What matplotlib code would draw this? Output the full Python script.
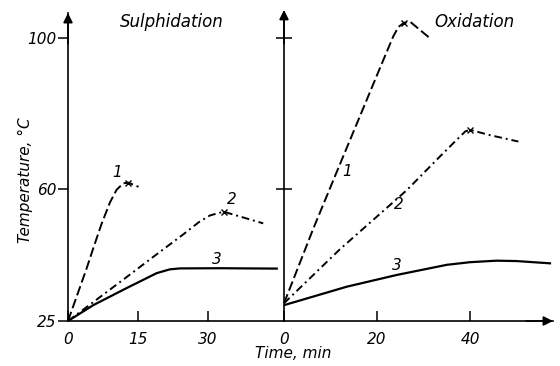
import matplotlib
matplotlib.use('Agg')
import matplotlib.pyplot as plt

# Sulphidation (time in min, temperature in deg C)
sul_t1 = [0, 2.0, 4.0, 5.6, 7.2, 9.0, 10.4, 11.8, 12.9, 15.1]
sul_T1 = [25, 32.0, 39.0, 45.0, 50.8, 56.5, 59.8, 61.5, 61.7, 60.6]
sul_peak1 = (12.9, 61.7)

sul_t2 = [0, 5.4, 12.5, 17.6, 21.8, 24.7, 28.0, 30.4, 33.3, 41.8]
sul_T2 = [25, 30.0, 36.6, 41.4, 45.3, 48.0, 51.2, 53.0, 54.0, 50.9]
sul_peak2 = (33.3, 54.0)

sul_t3 = [0, 5.4, 12.5, 19.0, 21.8, 24.0, 32.5, 44.7]
sul_T3 = [25, 29.2, 33.7, 37.7, 38.7, 38.95, 39.0, 38.9]

# Oxidation
ox_t1 = [0, 6.3, 12.0, 17.4, 20.6, 23.5, 24.6, 25.8, 27.1, 31.2]
ox_T1 = [29.7, 49.5, 66.5, 82.5, 92.0, 100.5, 103.0, 104.1, 104.4, 100.2]
ox_peak1 = (25.8, 104.1)

ox_t2 = [0, 12.0, 26.4, 33.5, 37.5, 39.0, 40.0, 44.3, 50.4]
ox_T2 = [29.7, 44.0, 59.7, 68.6, 73.5, 75.3, 75.7, 74.3, 72.6]
ox_peak2 = (40.0, 75.7)

ox_t3 = [0, 13.5, 24.2, 35.0, 40.0, 45.7, 50.0, 57.2]
ox_T3 = [29.2, 34.1, 37.2, 39.9, 40.6, 41.0, 40.9, 40.3]

sul_xticks = [0, 15, 30]
ox_xticks = [0, 20, 40]
yticks = [25, 60, 100]

DASH = (0, (5, 2))
DASHDOT = (0, (4, 2, 1, 2))
LW = 1.4
FONT = dict(family='DejaVu Sans', style='italic')

fig = plt.figure(figsize=(5.6, 3.66), dpi=100)
ax1 = fig.add_axes([68 / 560, 45 / 366, 216 / 560, 308 / 366])
ax2 = fig.add_axes([284 / 560, 45 / 366, 269 / 560, 308 / 366])

ymax = 106.7
for ax, xmax in ((ax1, 46.25), (ax2, 57.85)):
    ax.set_xlim(0, xmax)
    ax.set_ylim(25, ymax)
    for s in ('top', 'right'):
        ax.spines[s].set_visible(False)
    for s in ('left', 'bottom'):
        ax.spines[s].set_linewidth(1.2)
    ax.patch.set_alpha(0)

# curves
ax1.plot(sul_t1, sul_T1, color='k', lw=LW, ls=DASH)
ax1.plot(sul_t2, sul_T2, color='k', lw=LW, ls=DASHDOT)
ax1.plot(sul_t3, sul_T3, color='k', lw=1.6)
ax1.plot(*sul_peak1, marker='x', color='k', ms=5, mew=1)
ax1.plot(*sul_peak2, marker='x', color='k', ms=5, mew=1)

ax2.plot(ox_t1, ox_T1, color='k', lw=LW, ls=DASH, clip_on=False)
ax2.plot(ox_t2, ox_T2, color='k', lw=LW, ls=DASHDOT)
ax2.plot(ox_t3, ox_T3, color='k', lw=1.6)
ax2.plot(*ox_peak1, marker='x', color='k', ms=5, mew=1, clip_on=False)
ax2.plot(*ox_peak2, marker='x', color='k', ms=5, mew=1)

# curve numbers
for ax, pos in ((ax1, [(10.6, 64.3), (35.0, 57.1), (31.8, 41.2)]),
                (ax2, [(13.5, 64.6), (24.6, 55.8), (24.2, 39.8)])):
    for i, (x, y) in enumerate(pos):
        ax.text(x, y, str(i + 1), ha='center', va='center', fontsize=11, **FONT)

# ticks
ax1.set_yticks(yticks)
ax1.set_yticklabels([str(v) for v in yticks], fontsize=11, **FONT)
ax1.tick_params(axis='y', direction='out', length=7, width=1.1, pad=1)
ax1.set_xticks(sul_xticks)
ax1.set_xticklabels([str(v) for v in sul_xticks], fontsize=11, **FONT)
ax1.tick_params(axis='x', direction='in', length=7, width=1.1, pad=8)

ax2.set_yticks([60, 100])
ax2.set_yticklabels([])
ax2.tick_params(axis='y', direction='inout', length=12, width=1.1)
ax2.set_xticks(ox_xticks)
ax2.set_xticklabels([str(v) for v in ox_xticks], fontsize=11, **FONT)
ax2.tick_params(axis='x', direction='in', length=7, width=1.1, pad=8)

# axis arrows
arrow = dict(arrowstyle='-|>', color='k', lw=1.2, mutation_scale=14,
             shrinkA=0, shrinkB=0)
ax1.annotate('', xy=(0, 1.0), xytext=(0, 0.9), xycoords='axes fraction', arrowprops=arrow)
ax2.annotate('', xy=(0, 1.01), xytext=(0, 0.9), xycoords='axes fraction', arrowprops=arrow)
ax2.annotate('', xy=(1.0, 0), xytext=(0.9, 0), xycoords='axes fraction', arrowprops=arrow)

# titles and axis labels
ax1.text(22.3, 104.3, 'Sulphidation', ha='center', va='center', fontsize=12, **FONT)
ax2.text(40.9, 104.3, 'Oxidation', ha='center', va='center', fontsize=12, **FONT)
fig.text(25 / 560, 1 - 180 / 366, 'Temperature, °C', rotation=90,
         ha='center', va='center', fontsize=11, **FONT)
fig.text(293 / 560, 1 - 354 / 366, 'Time, min', ha='center', va='center',
         fontsize=11, **FONT)

fig.savefig('out.png', dpi=100)
